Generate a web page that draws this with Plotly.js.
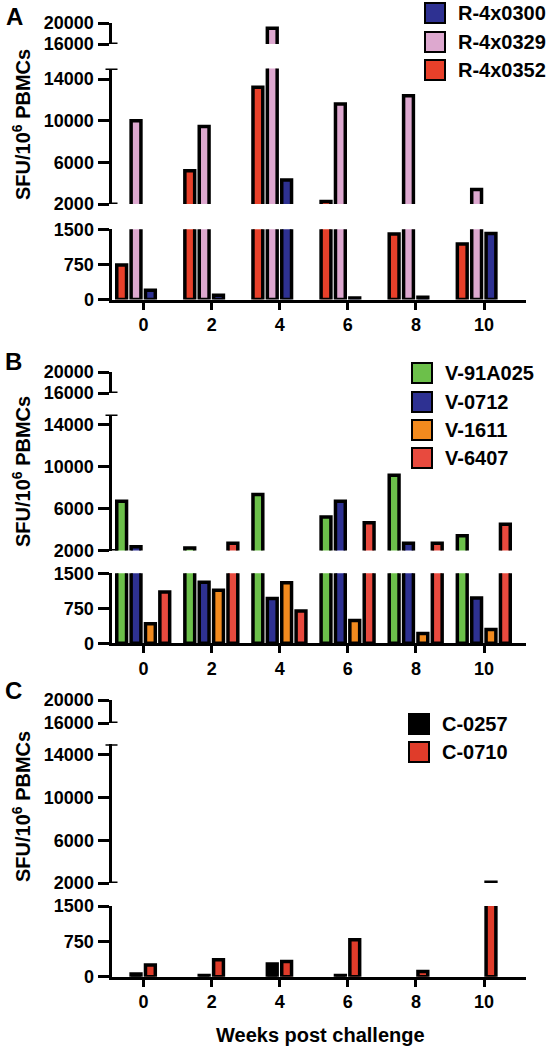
<!DOCTYPE html>
<html><head><meta charset="utf-8">
<script src="https://cdn.plot.ly/plotly-3.0.1.min.js"></script>
<style>html,body{margin:0;padding:0;background:#fff}#chart{width:552px;height:1050px}</style>
</head><body><div id="chart"></div>
<script>
// ---------------- DATA ----------------
const weeks = [0, 2, 4, 6, 8, 10];
const weekLabels = ['0', '2', '4', '6', '8', '10'];

// Panel A
const namesA = ['R-4x0300', 'R-4x0329', 'R-4x0352'];
const R_4x0300 = [200, 90, 4300, 30, 50, 1410];
const R_4x0329 = [10000, 9450, 19000, 11600, 12400, 3400];
const R_4x0352 = [735, 5200, 13200, 2250, 1400, 1185];

// Panel B
const namesB = ['V-91A025', 'V-0712', 'V-1611', 'V-6407'];
const V_91A025 = [6700, 2250, 7350, 5200, 9200, 3400];
const V_0712 = [2350, 1310, 960, 6700, 2700, 970];
const V_1611 = [420, 1135, 1300, 490, 210, 295];
const V_6407 = [1100, 2700, 690, 4650, 2700, 4500];

// Panel C (null = no bar visible)
const namesC = ['C-0257', 'C-0710'];
const C_0257 = [60, 25, 270, 25, null, null];
const C_0710 = [250, 360, 325, 785, 113, 2080];

// axis ticks
const yTicksTop = [16000, 20000];
const yTicksMid = [2000, 6000, 10000, 14000];
const yTicksBot = [0, 750, 1500];
const rangeTop = [16000, 20000];
const rangeMid = [2000, 15000];
const rangeBot = [0, 1500];

const yTitle = 'SFU/10<sup>6</sup> PBMCs';
const xTitle = 'Weeks post challenge';

// ---------------- STYLE / LAYOUT ----------------
const W = 552, H = 1050;
const FONT = 'Liberation Sans, Arial, Helvetica, sans-serif';
const AXIS_X = 111.5, AXIS_END = 526;
const xRange = [-0.94, 11.23];
const slotOffsets = [-0.786, -0.364, 0.058, 0.48];
const barW = 0.288;

const panels = [
  {letter: 'A', names: namesA, values: [R_4x0300, R_4x0329, R_4x0352],
   colors: ['#2E3192', '#DDA8CF', '#E8402A'], slots: [2, 1, 0],
   top: [23, 44], mid: [68.6, 204], bot: [229.3, 299.5],
   letterPos: [14, 16], titleY: 125, legX: 425, legY: [13, 42, 70]},
  {letter: 'B', names: namesB, values: [V_91A025, V_0712, V_1611, V_6407],
   colors: ['#6CC04A', '#2E3192', '#F28A1E', '#E84A3E'], slots: [0, 1, 2, 3],
   top: [372, 393], mid: [414.5, 550.5], bot: [573.3, 643.3],
   letterPos: [13, 361], titleY: 472, legX: 412, legY: [373, 402, 430, 458]},
  {letter: 'C', names: namesC, values: [C_0257, C_0710],
   colors: ['#000000', '#E03C2A'], slots: [1, 2],
   top: [700, 723], mid: [744.3, 883], bot: [906, 976.8],
   letterPos: [13, 690], titleY: 807, legX: 409, legY: [724, 752]}
];

const px = v => v / W;
const py = v => 1 - v / H;

const layout = {
  width: W, height: H,
  margin: {l: 0, r: 0, t: 0, b: 0},
  paper_bgcolor: '#fff', plot_bgcolor: 'rgba(0,0,0,0)',
  showlegend: false,
  barmode: 'overlay',
  font: {family: FONT, size: 18, color: '#000', weight: 'bold'},
  shapes: [], annotations: []
};
const traces = [];

const tickFont = {family: FONT, size: 18, color: '#000', weight: 'bold'};

panels.forEach((p, pi) => {
  const xName = pi === 0 ? 'x' : 'x' + (pi + 1);
  const segs = [
    {dom: p.top, range: rangeTop, ticks: yTicksTop},
    {dom: p.mid, range: rangeMid, ticks: yTicksMid},
    {dom: p.bot, range: rangeBot, ticks: yTicksBot}
  ];
  const yNames = segs.map((s, si) => {
    const idx = pi * 3 + si + 1;
    return idx === 1 ? 'y' : 'y' + idx;
  });
  const botY = yNames[2];
  layout['xaxis' + (pi === 0 ? '' : pi + 1)] = {
    domain: [px(AXIS_X), px(AXIS_END)], range: xRange, anchor: botY,
    tickmode: 'array', tickvals: weeks, ticktext: weekLabels, ticks: 'outside', ticklen: 7, tickwidth: 3,
    tickcolor: '#000', showline: true, linewidth: 3, linecolor: '#000',
    showgrid: false, zeroline: false, tickfont: tickFont, fixedrange: true
  };
  segs.forEach((s, si) => {
    const yKey = 'yaxis' + (yNames[si] === 'y' ? '' : yNames[si].slice(1));
    layout[yKey] = {
      domain: [py(s.dom[1]), py(s.dom[0])], range: s.range, anchor: xName,
      tickmode: 'array', tickvals: s.ticks, ticktext: s.ticks.map(String),
      ticks: 'outside', ticklen: 11, tickwidth: 3, tickcolor: '#000',
      showline: true, linewidth: 3, linecolor: '#000', showgrid: false, zeroline: false,
      tickfont: tickFont, fixedrange: true
    };
    p.names.forEach((nm, k) => {
      traces.push({
        type: 'bar', name: nm, x: weeks, y: p.values[k],
        xaxis: xName, yaxis: yNames[si],
        offset: slotOffsets[p.slots[k]], width: barW,
        marker: {color: p.colors[k], line: {color: '#000', width: 3.5}},
        hoverinfo: 'skip', showlegend: false
      });
    });
  });
  const stub = (yref, val, left, right) => layout.shapes.push({
    type: 'line', xref: 'paper', yref: yref, x0: px(AXIS_X - left), x1: px(AXIS_X + right),
    y0: val, y1: val, line: {color: '#000', width: 3}
  });
  stub(yNames[0], rangeTop[0], 0, 6);
  stub(yNames[1], rangeMid[1], 6, 6);
  stub(yNames[1], rangeMid[0], 0, 6);
  layout.annotations.push({
    text: p.letter, xref: 'paper', yref: 'paper', x: px(p.letterPos[0]), y: py(p.letterPos[1]),
    xanchor: 'center', yanchor: 'middle', showarrow: false,
    font: {family: FONT, size: 24, color: '#000', weight: 'bold'}
  });
  layout.annotations.push({
    text: yTitle, xref: 'paper', yref: 'paper', x: px(21), y: py(p.titleY),
    xanchor: 'center', yanchor: 'middle', textangle: -90, showarrow: false,
    font: {family: FONT, size: 20, color: '#000', weight: 'bold'}
  });
  p.names.forEach((nm, k) => {
    const cy = p.legY[k];
    layout.shapes.push({
      type: 'rect', xref: 'paper', yref: 'paper',
      x0: px(p.legX), x1: px(p.legX + 20), y0: py(cy + 10), y1: py(cy - 10),
      fillcolor: p.colors[k], line: {color: '#000', width: 2}
    });
    layout.annotations.push({
      text: nm, xref: 'paper', yref: 'paper', x: px(p.legX + 31), y: py(cy),
      xanchor: 'left', yanchor: 'middle', showarrow: false,
      font: {family: FONT, size: 20, color: '#000', weight: 'bold'}
    });
  });
});

layout.annotations.push({
  text: xTitle, xref: 'paper', yref: 'paper', x: px(320), y: py(1035),
  xanchor: 'center', yanchor: 'middle', showarrow: false,
  font: {family: FONT, size: 20, color: '#000', weight: 'bold'}
});

Plotly.newPlot('chart', traces, layout, {staticPlot: true, displayModeBar: false});
</script>
</body></html>
